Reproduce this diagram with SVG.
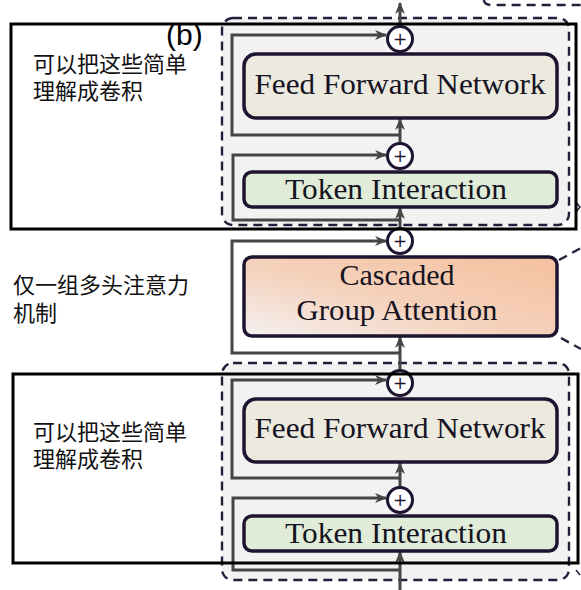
<svg xmlns="http://www.w3.org/2000/svg" width="581" height="590" viewBox="0 0 581 590">
<style>
.blk{fill:#f2f2f2;stroke:#271c3a;stroke-width:2.4;stroke-dasharray:9,6}
.frame{fill:none;stroke:#000;stroke-width:3}
.box{stroke:#1e1430;stroke-width:3.5}
.ffn{fill:#ece9df}
.ti{fill:#e1ecd8}
.lbl{font-family:"Liberation Serif","DejaVu Serif",serif;font-size:29px;fill:#15131f}
.zh{font-family:"Liberation Sans","Noto Sans CJK SC",sans-serif;font-size:22px;fill:#111}
.res{fill:none;stroke:#454545;stroke-width:3}
.plus circle{fill:#fff;stroke:#1e1430;stroke-width:3}
.plus text{font-family:"DejaVu Sans",sans-serif;font-size:17px;fill:#1e1430;text-anchor:middle}
.dl{fill:none;stroke:#271c3a;stroke-width:2.4;stroke-dasharray:9,6}
</style>
<defs>
<marker id="ah" viewBox="0 0 12 10" refX="11" refY="5" markerWidth="12" markerHeight="10" markerUnits="userSpaceOnUse" orient="auto">
<path d="M0,0 L12,5 L0,10 L3.5,5 z" fill="#454545"/>
</marker>
<linearGradient id="cg" x1="0" y1="1" x2="1" y2="0">
<stop offset="0" stop-color="#f4f0f1"/>
<stop offset="0.45" stop-color="#f5d2bc"/>
<stop offset="1" stop-color="#f5c09e"/>
</linearGradient>
</defs>

<g id="context">
<path class="dl" d="M484,0 Q484,5 492,5 L581,5"/>
<path class="dl" d="M559,260 L581,248"/>
<path class="dl" d="M561,338 L581,349"/>
<path fill="none" stroke="#271c3a" stroke-width="1.5" d="M576,202 L580,207 L576,212"/>
<path fill="none" stroke="#271c3a" stroke-width="1.5" d="M576,570 L580,575"/>
</g>

<g id="block-top">
<rect class="blk" x="222" y="18" width="347" height="207" rx="11"/>
</g>
<g id="block-bottom">
<rect class="blk" x="222" y="363" width="347" height="217" rx="11"/>
</g>

<g id="connectors">
<path class="res" d="M400,135 H232 V35 H386" marker-end="url(#ah)"/>
<path class="res" d="M400,220 H233 V155 H386" marker-end="url(#ah)"/>
<path class="res" d="M400,26 V3" marker-end="url(#ah)"/>
<path class="res" d="M400,143 V119" marker-end="url(#ah)"/>
<path class="res" d="M400,229 V208" marker-end="url(#ah)"/>
<path class="res" d="M400,353 H232 V241 H386" marker-end="url(#ah)"/>
<path class="res" d="M400,370 V337" marker-end="url(#ah)"/>
<path class="res" d="M400,478 H232 V380 H386" marker-end="url(#ah)"/>
<path class="res" d="M400,570 H233 V498 H386" marker-end="url(#ah)"/>
<path class="res" d="M400,487 V463" marker-end="url(#ah)"/>
<path class="res" d="M400,590 V552" marker-end="url(#ah)"/>
</g>

<g id="ffn-top">
<rect class="box ffn" x="244" y="54" width="313" height="64" rx="12"/>
<text class="lbl" x="400" y="94" text-anchor="middle" textLength="291" lengthAdjust="spacingAndGlyphs">Feed Forward Network</text>
</g>
<g id="ti-top">
<rect class="box ti" x="244" y="172" width="313" height="35" rx="8"/>
<text class="lbl" x="396" y="199" text-anchor="middle" textLength="222" lengthAdjust="spacingAndGlyphs">Token Interaction</text>
</g>
<g id="cga">
<rect class="box" fill="url(#cg)" x="244" y="257" width="313" height="79" rx="8"/>
<text class="lbl" x="397" y="285" text-anchor="middle" textLength="115" lengthAdjust="spacingAndGlyphs">Cascaded</text>
<text class="lbl" x="397" y="320" text-anchor="middle" textLength="201" lengthAdjust="spacingAndGlyphs">Group Attention</text>
</g>
<g id="ffn-bottom">
<rect class="box ffn" x="244" y="399" width="313" height="63" rx="12"/>
<text class="lbl" x="400" y="438" text-anchor="middle" textLength="291" lengthAdjust="spacingAndGlyphs">Feed Forward Network</text>
</g>
<g id="ti-bottom">
<rect class="box ti" x="244" y="516" width="313" height="35" rx="8"/>
<text class="lbl" x="396" y="543" text-anchor="middle" textLength="222" lengthAdjust="spacingAndGlyphs">Token Interaction</text>
</g>

<g id="plus-1" class="plus"><circle cx="400" cy="39" r="12.5"/><text x="400" y="45">+</text></g>
<g id="plus-2" class="plus"><circle cx="400" cy="156" r="12.5"/><text x="400" y="162">+</text></g>
<g id="plus-3" class="plus"><circle cx="400" cy="241" r="12.5"/><text x="400" y="247">+</text></g>
<g id="plus-4" class="plus"><circle cx="400" cy="383" r="12.5"/><text x="400" y="389">+</text></g>
<g id="plus-5" class="plus"><circle cx="400" cy="500" r="12.5"/><text x="400" y="506">+</text></g>

<g id="note-top">
<rect class="frame" x="11" y="24" width="565" height="205"/>
<text class="zh" x="33" y="72">可以把这些简单<tspan x="33" dy="27">理解成卷积</tspan></text>
</g>
<g id="note-mid">
<text class="zh" x="13" y="293">仅一组多头注意力<tspan x="13" dy="28">机制</tspan></text>
</g>
<g id="note-bottom">
<rect class="frame" x="13" y="374" width="565" height="189"/>
<text class="zh" x="33" y="440">可以把这些简单<tspan x="33" dy="27">理解成卷积</tspan></text>
</g>
<g id="label-b">
<text x="166" y="45" font-family="Liberation Sans, Arial, sans-serif" font-size="30" fill="#000">(b)</text>
</g>
</svg>
